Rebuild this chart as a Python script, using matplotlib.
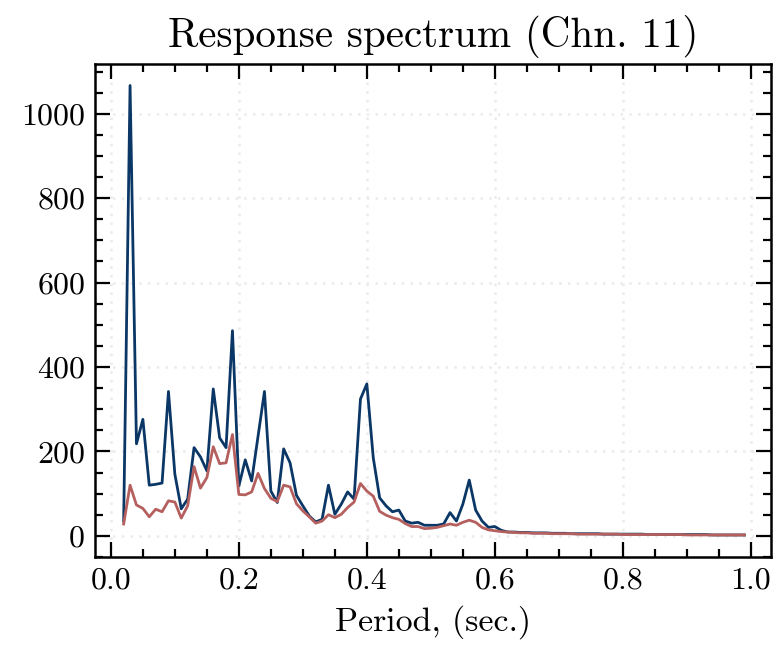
import numpy as np
import matplotlib
matplotlib.use("Agg")
import matplotlib.pyplot as plt
from matplotlib.ticker import MultipleLocator

plt.rcParams["font.family"] = "serif"
plt.rcParams["font.serif"] = ["cmr10"]
plt.rcParams["mathtext.fontset"] = "cm"
plt.rcParams["axes.formatter.use_mathtext"] = True

# periods 0.02 .. 0.99 sec
period = np.round(np.arange(2, 100) / 100, 2)

resp_blue = [
    35, 1067, 218, 276, 120, 122, 125, 342, 146, 64,
    87, 209, 187, 154, 348, 232, 209, 486, 118, 180,
    130, 236, 342, 106, 79, 206, 173, 96, 71, 47,
    33, 39, 120, 51, 75, 104, 87, 324, 360, 185,
    90, 71, 57, 61, 35, 30, 32, 25, 25, 25,
    28, 55, 35, 75, 132, 61, 35, 20, 22, 13,
    9, 9, 8, 8, 7, 7, 7, 6, 6, 6,
    5, 5, 5, 5, 5, 4, 4, 4, 4, 4,
    4, 4, 3, 3, 3, 3, 3, 3, 3, 3,
    3, 3, 2, 2, 2, 2, 2, 2,
]
resp_red = [
    28, 120, 73, 65, 45, 63, 57, 83, 80, 42,
    71, 164, 113, 138, 211, 171, 173, 240, 98, 97,
    104, 148, 112, 89, 81, 120, 116, 76, 59, 45,
    30, 35, 50, 43, 51, 67, 80, 124, 106, 94,
    58, 49, 43, 39, 29, 22, 22, 17, 18, 20,
    24, 28, 25, 32, 37, 32, 20, 14, 12, 10,
    9, 8, 7, 7, 6, 6, 6, 5, 5, 5,
    5, 4, 4, 4, 4, 4, 4, 4, 3, 3,
    3, 3, 3, 3, 3, 3, 3, 3, 2, 2,
    2, 2, 2, 2, 2, 2, 2, 2,
]

fig = plt.figure(figsize=(3.92, 3.315), dpi=200)
ax = fig.add_axes([0.121, 0.160, 0.862, 0.7435])

ax.plot(period, resp_blue, color="#0b3766", lw=1.0)
ax.plot(period, resp_red, color="#b5605f", lw=1.0)

ax.set_xlim(-0.025, 1.031)
ax.set_ylim(-50, 1118)
ax.xaxis.set_major_locator(MultipleLocator(0.2))
ax.xaxis.set_minor_locator(MultipleLocator(0.05))
ax.yaxis.set_major_locator(MultipleLocator(200))
ax.yaxis.set_minor_locator(MultipleLocator(50))
ax.xaxis.set_major_formatter(plt.FormatStrFormatter("%.1f"))

ax.tick_params(which="both", direction="in", top=True, right=True, labelsize=11.5)
ax.tick_params(which="major", length=5.5, width=0.8)
ax.tick_params(which="minor", length=2.8, width=0.8)
for s in ax.spines.values():
    s.set_linewidth(0.9)

ax.grid(True, which="major", linestyle=(0, (1, 2.5)), color="#ebebeb", lw=0.9)

ax.set_title("Response spectrum (Chn. 11)", fontsize=14.8, pad=6)
ax.set_xlabel("Period, (sec.)", fontsize=12.2)

fig.savefig("out.png", dpi=200)
